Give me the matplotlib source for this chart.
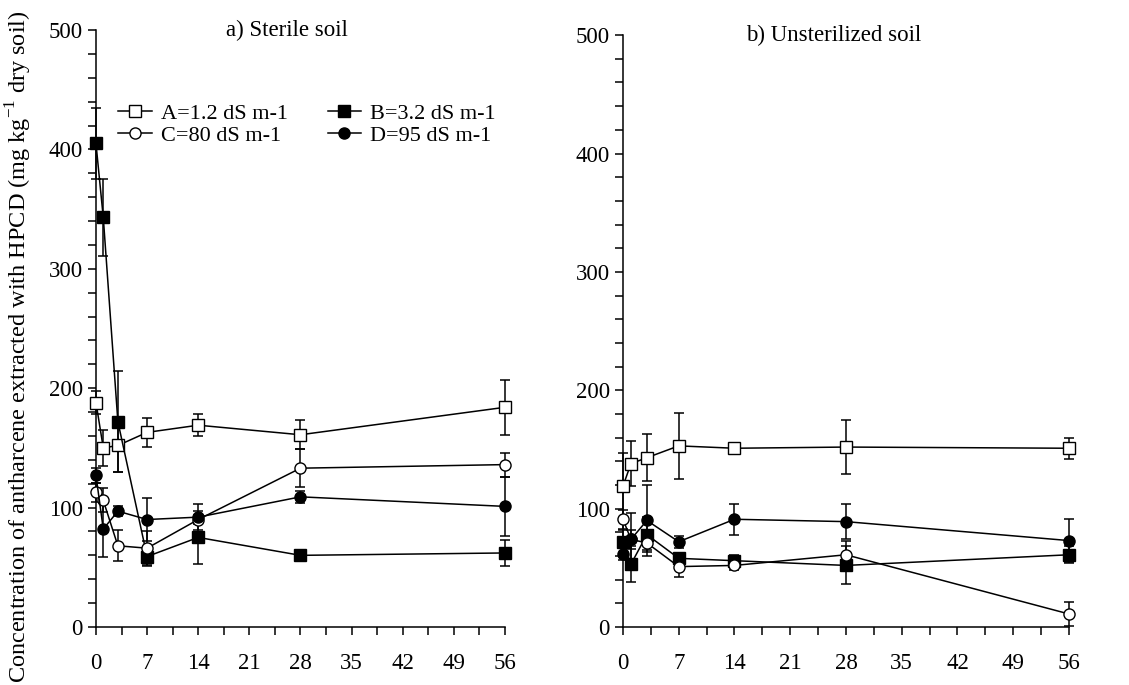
import matplotlib
matplotlib.use("Agg")
import matplotlib.pyplot as plt
from matplotlib.ticker import MultipleLocator
from matplotlib.lines import Line2D

plt.rcParams['font.family'] = ['Liberation Serif', 'DejaVu Serif']

# -----------------------------
# Data (days after incubation)
# -----------------------------
days = [0, 1, 3, 7, 14, 28, 56]

labels = ["A=1.2 dS m-1", "B=3.2 dS m-1", "C=80 dS m-1", "D=95 dS m-1"]

# a) Sterile soil
sterile_A = [188, 150, 152, 163, 169, 161, 184]
sterile_A_err = [10, 15, 22, 12, 9, 12, 23]
sterile_B = [405, 343, 172, 59, 75, 60, 62]
sterile_B_err = [30, 32, 42, 8, 22, 3, 11]
sterile_C = [113, 106, 68, 66, 90, 133, 136]
sterile_C_err = [8, 10, 13, 14, 4, 16, 10]
sterile_D = [127, 82, 97, 90, 92, 109, 101]
sterile_D_err = [6, 23, 4, 18, 11, 5, 25]

# b) Unsterilized soil
unster_A = [119, 138, 143, 153, 151, 152, 151]
unster_A_err = [28, 19, 20, 28, 2, 23, 9]
unster_B = [72, 53, 78, 58, 56, 52, 61]
unster_B_err = [10, 15, 15, 3, 5, 16, 7]
unster_C = [91, 74, 71, 51, 52, 61, 11]
unster_C_err = [8, 8, 6, 9, 4, 12, 10]
unster_D = [62, 74, 90, 72, 91, 89, 73]
unster_D_err = [5, 22, 30, 5, 13, 15, 18]

styles = [("s", "white"), ("s", "black"), ("o", "white"), ("o", "black")]


def draw_panel(ax, series, errs, title, title_x):
    for (marker, face), y, e in zip(styles, series, errs):
        ax.errorbar(days, y, yerr=e, fmt="-", marker=marker, color="black",
                    mfc=face, mec="black", ms=8, lw=1.1, elinewidth=1.1,
                    capsize=3.5, capthick=1.1, clip_on=False, zorder=3)
    ax.set_xlim(0, 56)
    ax.set_ylim(0, 500)
    ax.xaxis.set_major_locator(MultipleLocator(7))
    ax.xaxis.set_minor_locator(MultipleLocator(3.5))
    ax.yaxis.set_major_locator(MultipleLocator(100))
    ax.yaxis.set_minor_locator(MultipleLocator(20))
    ax.tick_params(which="both", direction="out", length=6, width=1.1,
                   labelsize=16.5)
    ax.tick_params(axis="x", pad=13)
    for s in ["top", "right"]:
        ax.spines[s].set_visible(False)
    for s in ["left", "bottom"]:
        ax.spines[s].set_linewidth(1.1)
    ax.text(title_x, 1.0, title, transform=ax.transAxes, ha="center", va="center",
            fontsize=16.5)


fig = plt.figure(figsize=(11.29, 6.85), dpi=100)
ax1 = fig.add_axes([0.085, 0.0847, 0.3623, 0.8715])
ax2 = fig.add_axes([0.5518, 0.0847, 0.395, 0.864])

draw_panel(ax1, [sterile_A, sterile_B, sterile_C, sterile_D],
           [sterile_A_err, sterile_B_err, sterile_C_err, sterile_D_err],
           "a) Sterile soil", 0.468)
draw_panel(ax2, [unster_A, unster_B, unster_C, unster_D],
           [unster_A_err, unster_B_err, unster_C_err, unster_D_err],
           "b) Unsterilized soil", 0.473)

ax1.set_ylabel("Concentration of antharcene extracted with HPCD "
               "(mg kg$^{\\mathregular{-1}}$ dry soil)", fontsize=17.5)
ax1.yaxis.set_label_coords(-0.152, 0.47)

handles = [Line2D([], [], color="black", lw=1.1, marker=m, mfc=f, mec="black", ms=8)
           for m, f in styles]
order = [0, 2, 1, 3]
ax1.legend([handles[i] for i in order], [labels[i] for i in order], ncol=2,
           frameon=False, loc="upper left", bbox_to_anchor=(0.055, 0.877),
           borderpad=0, borderaxespad=0, fontsize=16, handlelength=1.5,
           handletextpad=0.4, columnspacing=1.8, labelspacing=0.05)

fig.savefig("out.png", dpi=100)
